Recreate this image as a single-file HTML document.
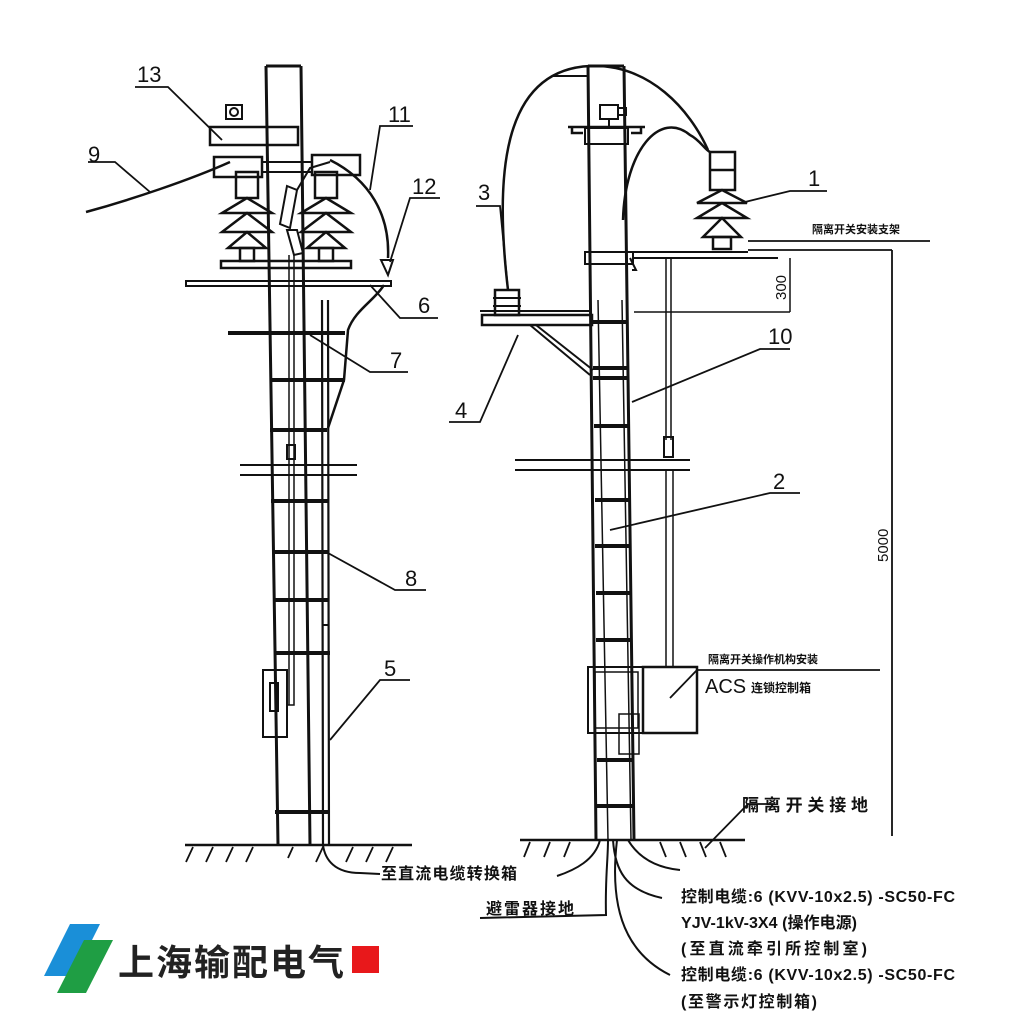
<!DOCTYPE html>
<html><head><meta charset="utf-8"><style>
html,body{margin:0;padding:0;background:#fff;}
svg{display:block}
text{font-family:"Liberation Sans","Noto Sans CJK SC",sans-serif;fill:#111}
.c{font-family:"Liberation Sans","Noto Sans CJK SC",sans-serif;font-weight:bold}
</style></head><body>
<svg width="1024" height="1024" viewBox="0 0 1024 1024" xmlns="http://www.w3.org/2000/svg" stroke="#111" fill="none" stroke-width="2">
<!-- LEFT POLE -->
<path d="M266 66 L301 66 M266 66 L278 845 M301 66 L310 845" stroke-width="3"/>
<path d="M289 255 L289 705 M294 255 L294 705 L287 705" stroke-width="1.5"/>
<rect x="287" y="445" width="8" height="14"/>
<rect x="263" y="670" width="24" height="67"/><rect x="270" y="683" width="8" height="28"/>
<path d="M322 300 L323 845 M328 300 L329 845" stroke-width="2.2"/>
<path d="M322 625 L328 625" />
<g stroke-width="4">
<path d="M228 333 L345 333"/><path d="M270 380 L345 380"/><path d="M270 430 L327 430"/>
<path d="M271 501 L328 501"/><path d="M272 552 L328 552"/><path d="M273 600 L329 600"/>
<path d="M274 653 L330 653"/><path d="M275 812 L330 812"/>
</g>
<path d="M240 465 L357 465 M240 475 L357 475" stroke-width="2"/>
<rect x="186" y="281" width="205" height="5" stroke-width="2"/>
<rect x="210" y="127" width="88" height="18" stroke-width="2.5"/>
<rect x="226" y="105" width="16" height="14"/><circle cx="234" cy="112" r="4"/>
<rect x="214" y="157" width="48" height="20" stroke-width="2.5"/>
<rect x="312" y="155" width="48" height="20" stroke-width="2.5"/>
<path d="M262 162 L312 162 M262 172 L312 172" />
<rect x="221" y="261" width="130" height="7" stroke-width="2.5"/>
<g stroke-width="2.5">
<g>
<rect x="236" y="172" width="22" height="26"/>
<path d="M222 213 L272 213 L247 198 Z M222 232 L272 232 L247 213 Z M228 248 L266 248 L247 232 Z"/>
<rect x="240" y="248" width="14" height="13"/>
</g>
<g transform="translate(79,0)">
<rect x="236" y="172" width="22" height="26"/>
<path d="M222 213 L272 213 L247 198 Z M222 232 L272 232 L247 213 Z M228 248 L266 248 L247 232 Z"/>
<rect x="240" y="248" width="14" height="13"/>
</g>
</g>
<path d="M287 186 L297 190 L290 228 L280 224 Z" stroke-width="2"/>
<path d="M287 230 L297 230 L303 253 L294 255 Z" stroke-width="2"/>
<path d="M297 190 L310 168 L330 162" stroke-width="2"/>
<path d="M86 212 C130 200 190 180 230 162" stroke-width="2.5"/>
<path d="M330 160 C370 180 390 215 388 258" stroke-width="2.5"/>
<path d="M381 260 L393 260 L388 275 Z" stroke-width="2"/>
<path d="M384 285 C375 300 355 310 348 330 L344 380 L328 428" stroke-width="2.5"/>
<path d="M185 845 L412 845" stroke-width="2.5"/>
<g stroke-width="1.8"><path d="M193 847 L186 862 M213 847 L206 862 M233 847 L226 862 M253 847 L246 862 M293 847 L288 858 M323 847 L316 862 M353 847 L346 862 M373 847 L366 862 M393 847 L386 862"/></g>
<path d="M323 845 C325 860 335 873 360 873 L380 874" stroke-width="2"/>
<g stroke-width="1.8">
<path d="M135 87 L168 87 L222 140"/><path d="M88 162 L115 162 L150 192"/>
<path d="M413 126 L380 126 L370 190"/><path d="M440 198 L410 198 L390 262"/>
<path d="M438 318 L400 318 L370 285"/><path d="M408 372 L370 372 L310 335"/>
<path d="M426 590 L395 590 L328 553"/><path d="M410 680 L380 680 L330 740"/>
</g>
<g font-size="22" stroke="none">
<text x="137" y="82">13</text><text x="88" y="162">9</text><text x="388" y="122">11</text>
<text x="412" y="194">12</text><text x="418" y="313">6</text><text x="390" y="368">7</text>
<text x="405" y="586">8</text><text x="384" y="676">5</text>
</g>
<text x="381" y="879" font-size="16" class="c" stroke="none" textLength="136">至直流电缆转换箱</text>

<!-- RIGHT POLE -->
<path d="M588 66 L624 66 M588 66 L596 840 M624 66 L634 840" stroke-width="3"/>
<path d="M598 300 L608 840 M622 300 L631 840" stroke-width="1.5"/>
<g stroke-width="4">
<path d="M592 322 L627 322"/><path d="M593 368 L628 368"/><path d="M593 378 L628 378"/>
<path d="M594 426 L629 426"/><path d="M595 500 L630 500"/><path d="M595 546 L631 546"/>
<path d="M596 593 L632 593"/><path d="M596 640 L632 640"/><path d="M597 760 L633 760"/><path d="M597 806 L634 806"/>
</g>
<path d="M515 460 L690 460 M515 470 L690 470" stroke-width="2"/>
<rect x="600" y="105" width="18" height="14"/><path d="M618 108 L626 108 L626 115 L618 115 M609 119 L609 127"/>
<path d="M568 127 L645 127 M572 127 L572 133 L583 133 M641 127 L641 133 L631 133" stroke-width="2.5"/>
<rect x="585" y="128" width="43" height="16" stroke-width="2"/>
<path d="M552 76 L588 76" stroke-width="2"/>
<path d="M508 290 C495 180 500 70 590 66 C650 64 690 110 708 150" stroke-width="2.5"/>
<path d="M623 220 C625 150 660 110 690 135 C700 140 705 150 710 152" stroke-width="2.5"/>
<g stroke-width="2.5">
<rect x="710" y="152" width="25" height="38"/><path d="M710 170 L735 170"/>
<path d="M697 203 L747 203 L722 190 Z M697 218 L747 218 L722 203 Z M703 237 L741 237 L722 218 Z"/>
<rect x="713" y="237" width="18" height="12"/>
</g>
<rect x="585" y="252" width="48" height="12" stroke-width="2"/>
<path d="M633 252 L748 252 M633 258 L778 258 M630 258 L636 270 L632 270" stroke-width="2"/>
<path d="M666 258 L666 440 M671 258 L671 440" stroke-width="1.5"/><rect x="664" y="437" width="9" height="20"/>
<path d="M666 470 L666 668 M673 470 L673 668" stroke-width="1.5"/>
<rect x="495" y="290" width="24" height="25" stroke-width="2.5"/><path d="M493 298 L521 298 M493 306 L521 306"/>
<rect x="482" y="315" width="110" height="10" stroke-width="2.5"/>
<path d="M480 311 L592 311"/>
<path d="M530 325 L590 375 M536 325 L593 370" stroke-width="2"/>
<path d="M748 250 L892 250 M892 250 L892 836 M748 241 L930 241" stroke-width="1.8"/>
<path d="M634 312 L790 312 M790 258 L790 312" stroke-width="1.5"/>
<text font-size="15" stroke="none" transform="translate(786,300) rotate(-90)">300</text>
<text font-size="15" stroke="none" transform="translate(888,562) rotate(-90)">5000</text>
<text x="812" y="233" font-size="11" class="c" stroke="none">隔离开关安装支架</text>
<rect x="588" y="667" width="55" height="66" stroke-width="2"/><rect x="595" y="672" width="43" height="56" stroke-width="1.5"/>
<rect x="643" y="667" width="54" height="66" stroke-width="2.5"/>
<path d="M697 670 L880 670 M697 670 L670 698" stroke-width="1.8"/>
<rect x="619" y="714" width="20" height="40" stroke-width="1.5"/>
<text x="708" y="663" font-size="11" class="c" stroke="none">隔离开关操作机构安装</text>
<text x="705" y="693" font-size="20" stroke="none">ACS</text>
<text x="751" y="692" font-size="12" class="c" stroke="none">连锁控制箱</text>
<g stroke-width="1.8">
<path d="M827 191 L790 191 L745 202"/><path d="M476 206 L500 206 L508 290"/>
<path d="M790 349 L760 349 L632 402"/><path d="M449 422 L480 422 L518 335"/>
<path d="M800 493 L770 493 L610 530"/><path d="M775 804 L748 804 L705 848"/>
</g>
<g font-size="22" stroke="none">
<text x="808" y="186">1</text><text x="478" y="200">3</text><text x="768" y="344">10</text>
<text x="455" y="418">4</text><text x="773" y="489">2</text>
</g>
<text x="742" y="811" font-size="17" class="c" stroke="none" textLength="126">隔离开关接地</text>
<path d="M520 840 L745 840" stroke-width="2.5"/>
<g stroke-width="1.8"><path d="M530 842 L524 857 M550 842 L544 857 M570 842 L564 857 M660 842 L666 857 M680 842 L686 857 M700 842 L706 857 M720 842 L726 857"/></g>
<path d="M600 840 C595 860 575 870 557 876" stroke-width="2"/>
<path d="M608 840 C608 860 605 880 606 915 L480 918" stroke-width="2"/>
<path d="M613 840 C615 870 625 890 662 898" stroke-width="2"/>
<path d="M617 840 C610 900 620 950 670 975" stroke-width="2"/>
<path d="M628 840 C640 860 660 868 680 870" stroke-width="2"/>
<text x="486" y="914" font-size="16" class="c" stroke="none" textLength="88">避雷器接地</text>
<g font-size="16" class="c" stroke="none">
<text x="681" y="902" textLength="274">控制电缆:6 (KVV-10x2.5) -SC50-FC</text>
<text x="681" y="928" textLength="176">YJV-1kV-3X4 (操作电源)</text>
<text x="681" y="954" textLength="186">(至直流牵引所控制室)</text>
<text x="681" y="980" textLength="274">控制电缆:6 (KVV-10x2.5) -SC50-FC</text>
<text x="681" y="1007" textLength="136">(至警示灯控制箱)</text>
</g>
<polygon points="70,924 100,924 74,976 44,976" fill="#1a8fd8" stroke="none"/>
<polygon points="84,940 113,940 86,993 57,993" fill="#1f9e44" stroke="none"/>
<text x="118" y="975" font-size="36" class="c" stroke="none" style="fill:#222" textLength="226">上海输配电气</text>
<rect x="352" y="946" width="27" height="27" fill="#e8181b" stroke="none"/>
</svg>
</body></html>
